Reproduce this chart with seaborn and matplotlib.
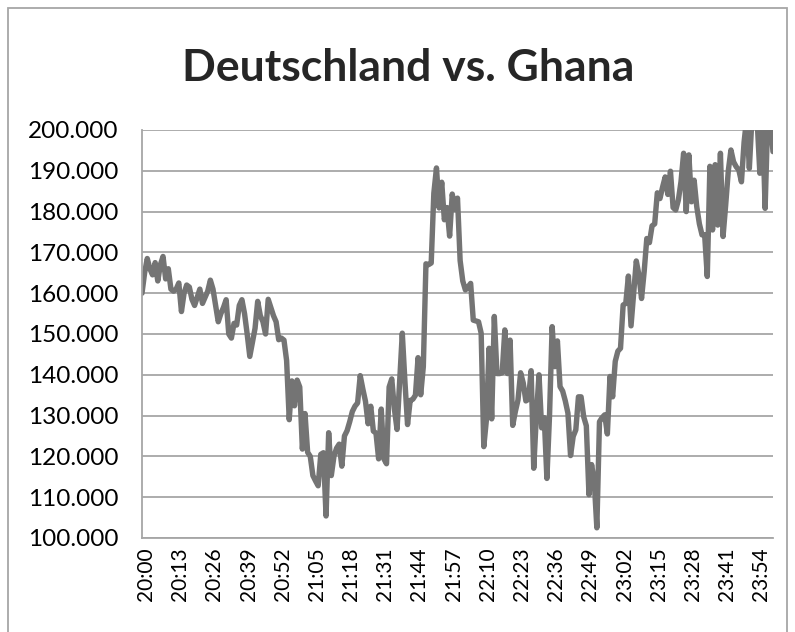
import pandas as pd
import seaborn as sns
import matplotlib.pyplot as plt
from matplotlib.patches import Rectangle
from matplotlib.ticker import FuncFormatter
from matplotlib.transforms import ScaledTranslation

# Minutenwerte 20:00 - 00:00 (in Tausend)
werte_tsd = [
    160.0, 165.0, 168.5, 166.0, 164.5, 167.5, 163.0, 167.0, 169.0, 163.5,
    166.0, 161.0, 160.5, 161.0, 162.5, 155.5, 160.0, 162.0, 161.5, 158.5,
    157.0, 159.0, 161.0, 157.5, 159.0, 160.5, 163.2, 161.0, 157.0, 153.0,
    155.0, 156.5, 158.4, 150.0, 149.0, 152.6, 152.2, 157.0, 158.4, 155.0,
    150.0, 144.5, 148.0, 151.4, 158.0, 154.5, 153.0, 150.0, 158.5, 156.5,
    154.5, 153.0, 148.6, 149.0, 148.5, 143.5, 129.0, 138.5, 132.4, 138.7,
    137.0, 121.8, 130.5, 121.0, 120.0, 115.3, 114.0, 112.8, 120.5, 120.9,
    105.4, 125.8, 115.3, 120.0, 122.0, 123.0, 117.6, 125.0, 126.3, 128.5,
    131.0, 132.3, 133.1, 139.8, 136.5, 133.5, 128.0, 132.3, 126.2, 125.7,
    119.4, 131.6, 119.4, 118.2, 137.0, 139.0, 131.6, 126.6, 138.4, 150.2,
    138.4, 127.8, 133.7, 134.0, 135.0, 144.2, 135.1, 142.0, 167.2, 167.0,
    167.4, 184.5, 190.7, 180.9, 187.2, 178.0, 181.0, 174.0, 184.3, 180.5,
    183.3, 168.0, 163.0, 160.8, 161.5, 162.4, 153.4, 153.2, 153.0, 150.2,
    122.4, 129.0, 146.5, 129.2, 154.3, 140.3, 140.3, 140.5, 151.0, 140.3,
    148.5, 127.6, 131.0, 133.8, 140.5, 138.0, 133.6, 134.0, 141.0, 117.1,
    130.0, 140.0, 127.0, 129.5, 114.6, 130.0, 151.8, 142.0, 148.3, 137.1,
    136.0, 133.6, 130.6, 120.2, 124.9, 126.5, 134.6, 134.6, 129.7, 127.5,
    110.6, 118.0, 114.0, 102.5, 128.5, 129.5, 130.2, 125.5, 139.6, 134.6,
    143.3, 145.8, 146.5, 157.1, 157.5, 164.2, 152.0, 160.0, 167.9, 164.5,
    158.7, 165.3, 173.4, 172.4, 176.5, 177.0, 184.6, 183.2, 186.0, 188.5,
    184.2, 189.9, 181.0, 180.4, 182.8, 187.3, 194.3, 180.0, 193.9, 182.4,
    187.7, 181.2, 177.0, 174.3, 174.3, 164.1, 191.1, 175.5, 191.5, 176.7,
    194.3, 173.9, 181.6, 190.0, 195.1, 192.2, 191.0, 190.2, 187.3, 197.0,
    203.0, 190.6, 203.0, 204.0, 202.0, 189.4, 203.0, 180.8, 203.0, 202.0,
    194.7,
]
start = "20:00"
tick_step = 13
y_ticks = list(range(100000, 200001, 10000))

zeiten = pd.date_range(f"2014-06-21 {start}", periods=len(werte_tsd), freq="min").strftime("%H:%M")
df = pd.DataFrame({"minute": range(len(werte_tsd)), "zeit": zeiten,
                   "anzahl": [v * 1000 for v in werte_tsd]})

sns.set_style("white")
plt.rcParams["font.family"] = ["Lato", "DejaVu Sans"]

fig = plt.figure(figsize=(7.95, 6.32), dpi=100)
ax = fig.add_axes([142 / 795, 1 - 538 / 632, (773 - 142) / 795, (538 - 130) / 632])

sns.lineplot(data=df, x="minute", y="anzahl", color="#747474", linewidth=3.9, ax=ax)

ax.set_xlim(0, len(werte_tsd) - 1)
ax.set_ylim(100000, 200000)
ax.set_yticks(y_ticks)
ax.yaxis.set_major_formatter(FuncFormatter(lambda v, p: f"{int(v):,}".replace(",", ".")))
ax.set_xticks(df["minute"][::tick_step])
ax.set_xticklabels(df["zeit"][::tick_step], rotation=90)
ax.tick_params(axis="y", labelsize=17.5, length=0, pad=17, colors="black")
ax.tick_params(axis="x", labelsize=15, length=0, pad=7, colors="black")
# Beschriftung wie in Excel leicht nach rechts versetzt
for lbl in ax.get_xticklabels():
    lbl.set_transform(lbl.get_transform() + ScaledTranslation(4 / 100, 0, fig.dpi_scale_trans))
ax.set_xlabel("")
ax.set_ylabel("")
ax.grid(axis="y", color="#a6a6a6", linewidth=1.3)
ax.set_axisbelow(True)
for s in ["top", "right"]:
    ax.spines[s].set_visible(False)
for s in ["left", "bottom"]:
    ax.spines[s].set_color("#a6a6a6")
    ax.spines[s].set_linewidth(1.3)

fig.text(0.514, 1 - 68 / 632, "Deutschland vs. Ghana", ha="center", va="center",
         fontsize=32, fontweight="bold")

# Rahmen um das Diagramm
fig.patches.append(Rectangle((8 / 795, -0.05), (787 - 8) / 795, 1.05 - 8 / 632,
                             transform=fig.transFigure, fill=False,
                             edgecolor="#a6a6a6", linewidth=1.3))

fig.savefig("out.png", dpi=100)
